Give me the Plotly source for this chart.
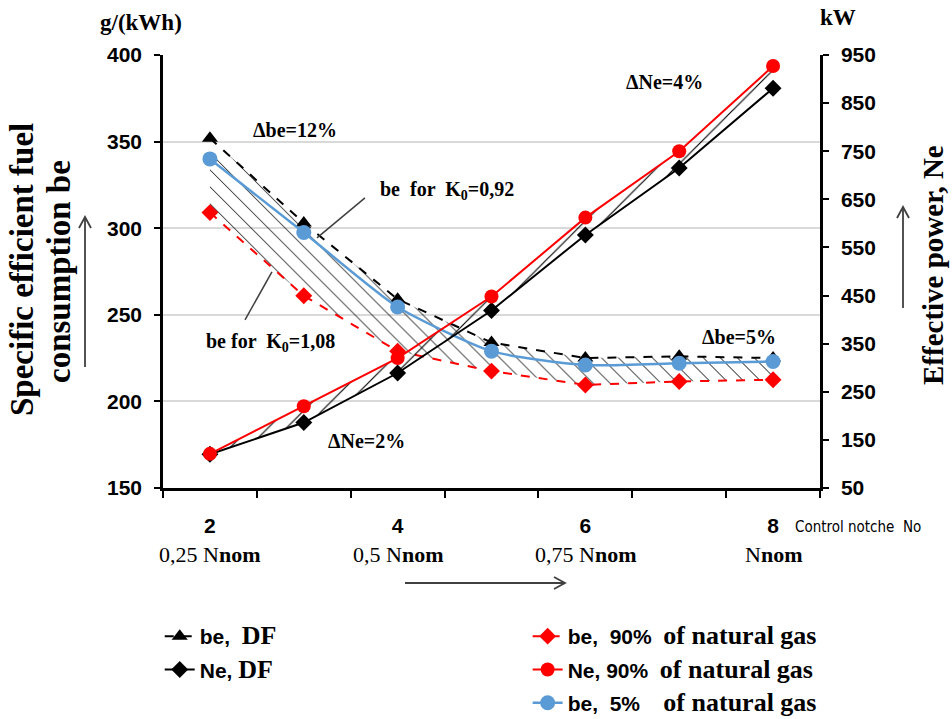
import plotly.graph_objects as go

# ---------------- data ----------------
notches = [2, 3, 4, 5, 6, 7, 8]
label_notches = [2, 4, 6, 8]
load_labels = ["0,25 N<b>nom</b>", "0,5 N<b>nom</b>", "0,75 N<b>nom</b>", "N<b>nom</b>"]

be_df = [352, 303, 259, 234, 225, 226, 225]
be_gas90 = [309, 261, 229, 217.5, 209.5, 211.5, 212.5]
be_gas5 = [340, 297.5, 254.5, 229, 221, 222, 223]
ne_df = [120, 186, 289, 419, 576, 715, 881]
ne_gas90 = [121, 220, 320, 448, 612, 750, 927]

SERIF = "Liberation Serif, Times New Roman, serif"
SANS = "Liberation Sans, Arial, sans-serif"
BLUE = "#5b9bd5"
RED = "#ff0000"

# plot-area geometry in pixels (for paper conversions of decorations)
W, H = 952, 719
ML, MR, MT, MB = 163, 132, 55, 231
PW, PH = W - ML - MR, H - MT - MB


def P(X, Y):
    return (X - ML) / PW, (H - MB - Y) / PH


fig = go.Figure()

# ---- hatched areas ----
fig.add_trace(go.Scatter(x=notches, y=be_gas90, mode="lines", line=dict(width=0, color="black"),
                         showlegend=False, hoverinfo="skip"))
fig.add_trace(go.Scatter(x=notches, y=be_df, mode="lines", line=dict(width=0, color="black"),
                         fill="tonexty", fillcolor="rgba(0,0,0,0)",
                         fillpattern=dict(shape="\\", fgcolor="black", bgcolor="rgba(0,0,0,0)",
                                          fgopacity=1, size=12, solidity=0.08),
                         showlegend=False, hoverinfo="skip"))
fig.add_trace(go.Scatter(x=notches, y=ne_df, mode="lines", yaxis="y2", line=dict(width=0, color="black"),
                         showlegend=False, hoverinfo="skip"))
fig.add_trace(go.Scatter(x=notches, y=ne_gas90, mode="lines", yaxis="y2", line=dict(width=0, color="black"),
                         fill="tonexty", fillcolor="rgba(0,0,0,0)",
                         fillpattern=dict(shape="/", fgcolor="black", bgcolor="rgba(0,0,0,0)",
                                          fgopacity=1, size=13, solidity=0.09),
                         showlegend=False, hoverinfo="skip"))

serif_span = ("<span style='font-family:Liberation Serif, Times New Roman, serif; font-size:26px'>"
              "<b>{}</b></span>")

# ---- main series ----
fig.add_trace(go.Scatter(
    x=notches, y=be_df, mode="lines+markers", name="<b>be,</b>  " + serif_span.format("DF"),
    line=dict(color="black", width=2, dash="dash"), legendgroup="a", legendrank=1,
    marker=dict(symbol="triangle-up", size=14, color="black"), legend="legend"))
fig.add_trace(go.Scatter(
    x=notches, y=ne_df, mode="lines+markers", yaxis="y2", name="<b>Ne,</b> " + serif_span.format("DF"),
    line=dict(color="black", width=2), legendgroup="b", legendrank=2,
    marker=dict(symbol="diamond", size=13, color="black"), legend="legend"))
fig.add_trace(go.Scatter(
    x=notches, y=be_gas90, mode="lines+markers",
    name="<b>be,  90%</b>  " + serif_span.format("of natural gas"),
    line=dict(color=RED, width=2, dash="dash"), legendgroup="c", legendrank=3,
    marker=dict(symbol="diamond", size=13, color=RED), legend="legend2"))
fig.add_trace(go.Scatter(
    x=notches, y=ne_gas90, mode="lines+markers", yaxis="y2",
    name="<b>Ne, 90%</b>  " + serif_span.format("of natural gas"),
    line=dict(color=RED, width=2), legendgroup="d", legendrank=4,
    marker=dict(symbol="circle", size=14, color=RED), legend="legend2"))
fig.add_trace(go.Scatter(
    x=notches, y=be_gas5, mode="lines+markers",
    name="<b>be,  5%</b>    " + serif_span.format("of natural gas"),
    line=dict(color=BLUE, width=2.5, shape="spline", smoothing=0.6), legendgroup="e", legendrank=5,
    marker=dict(symbol="circle", size=15, color=BLUE), legend="legend2"))

# ---- axes ----
half_ticks = [n - 0.5 for n in notches] + [notches[-1] + 0.5]
leg_common = dict(xanchor="left", yanchor="top", bgcolor="rgba(0,0,0,0)",
                  font=dict(family=SANS, size=21, color="black"), tracegroupgap=3,
                  traceorder="grouped")
fig.update_layout(
    width=W, height=H,
    margin=dict(l=ML, r=MR, t=MT, b=MB, autoexpand=False),
    paper_bgcolor="white", plot_bgcolor="white",
    xaxis=dict(range=[half_ticks[0], half_ticks[-1]], tickvals=label_notches,
               ticktext=[str(v) for v in label_notches], ticks="",
               tickfont=dict(family=SANS, size=21, color="black", weight="bold"),
               ticklabelstandoff=17,
               minor=dict(tickvals=half_ticks, ticks="outside", ticklen=7, tickwidth=2, tickcolor="black",
                          showgrid=False),
               showline=True, linecolor="black", linewidth=2.5, showgrid=False, zeroline=False),
    yaxis=dict(range=[150, 400], tick0=150, dtick=50, ticks="outside", ticklen=6, tickwidth=2,
               tickcolor="black", showline=True, linecolor="black", linewidth=2.5,
               showgrid=True, gridcolor="#d9d9d9", gridwidth=1.5, zeroline=False,
               tickfont=dict(family=SANS, size=21, color="black", weight="bold"),
               ticklabelstandoff=8),
    yaxis2=dict(range=[50, 950], tick0=50, dtick=100, overlaying="y", side="right",
                ticks="outside", ticklen=6, tickwidth=2, tickcolor="black", showline=True,
                linecolor="black", linewidth=2.5, showgrid=False, zeroline=False,
                tickfont=dict(family=SANS, size=21, color="black", weight="bold"),
                ticklabelstandoff=8),
    legend=dict(x=-0.005, y=P(0, 616)[1], **leg_common),
    legend2=dict(x=0.555, y=P(0, 616)[1], **leg_common),
    showlegend=True,
)

# ---- in-plot annotations ----
ann_font = dict(family=SERIF, size=20, color="black")
in_plot = [
    (2.906, 356.8, "Δbe=12%"),
    (4.526, 321.6, "be  for  K<sub>0</sub>=0,92"),
    (2.64, 233.8, "be for  K<sub>0</sub>=1,08"),
    (6.838, 384.4, "ΔNe=4%"),
    (3.673, 177.3, "ΔNe=2%"),
    (7.637, 237.3, "Δbe=5%"),
]
for x, y, t in in_plot:
    fig.add_annotation(x=x, y=y, xref="x", yref="y", text="<b>" + t + "</b>", showarrow=False,
                       font=ann_font, xanchor="center", yanchor="middle")

# leader lines
fig.add_shape(type="line", xref="x", yref="y", x0=3.652, y0=317.5, x1=3.141, y1=294.4,
              line=dict(color="#404040", width=1.5))
fig.add_shape(type="line", xref="x", yref="y", x0=2.661, y0=274.8, x1=2.374, y1=247.1,
              line=dict(color="#404040", width=1.5))

# second line of x labels
for n, lab in zip(label_notches, load_labels):
    fig.add_annotation(x=n, y=P(0, 554)[1], xref="x", yref="paper", text=lab, showarrow=False,
                       font=dict(family=SERIF, size=22, color="black"),
                       xanchor="center", yanchor="middle")


def paper_ann(X, Y, text, font, angle=0):
    px, py = P(X, Y)
    fig.add_annotation(x=px, y=py, xref="paper", yref="paper", text=text, showarrow=False,
                       font=font, textangle=angle, xanchor="center", yanchor="middle")


paper_ann(141, 22, "<b>g/(kWh)</b>", dict(family=SERIF, size=23, color="black"))
paper_ann(838, 18, "<b>kW</b>", dict(family=SERIF, size=23, color="black"))
paper_ann(22, 270, "<b>Specific efficient fuel</b>", dict(family=SERIF, size=33, color="black"), -90)
paper_ann(59, 272, "<b>consumption be</b>", dict(family=SERIF, size=33, color="black"), -90)
paper_ann(933, 265, "<b>Effective power, Ne</b>", dict(family=SERIF, size=29, color="black"), -90)
paper_ann(858, 527, "Control notche  No",
          dict(family="Liberation Sans Narrow, DejaVu Sans Condensed, Arial Narrow, sans-serif",
               size=15, color="black"))


# arrows (open heads)
def arrow(X0, Y0, X1, Y1, vertical):
    x0, y0 = P(X0, Y0)
    x1, y1 = P(X1, Y1)
    fig.add_shape(type="line", xref="paper", yref="paper", x0=x0, y0=y0, x1=x1, y1=y1,
                  line=dict(color="#404040", width=1.8))
    if vertical:
        a1 = P(X1 - 6, Y1 + 11)
        a2 = P(X1 + 6, Y1 + 11)
    else:
        a1 = P(X1 - 11, Y1 - 6)
        a2 = P(X1 - 11, Y1 + 6)
    path = f"M {a1[0]},{a1[1]} L {x1},{y1} L {a2[0]},{a2[1]}"
    fig.add_shape(type="path", xref="paper", yref="paper", path=path,
                  line=dict(color="#404040", width=1.8))


arrow(85, 367, 85, 217, True)
arrow(903, 308, 903, 207, True)
arrow(405, 583, 565, 583, False)

fig.write_html("out.html", post_script="document.body.style.margin='0';",
               config={"displayModeBar": False})
